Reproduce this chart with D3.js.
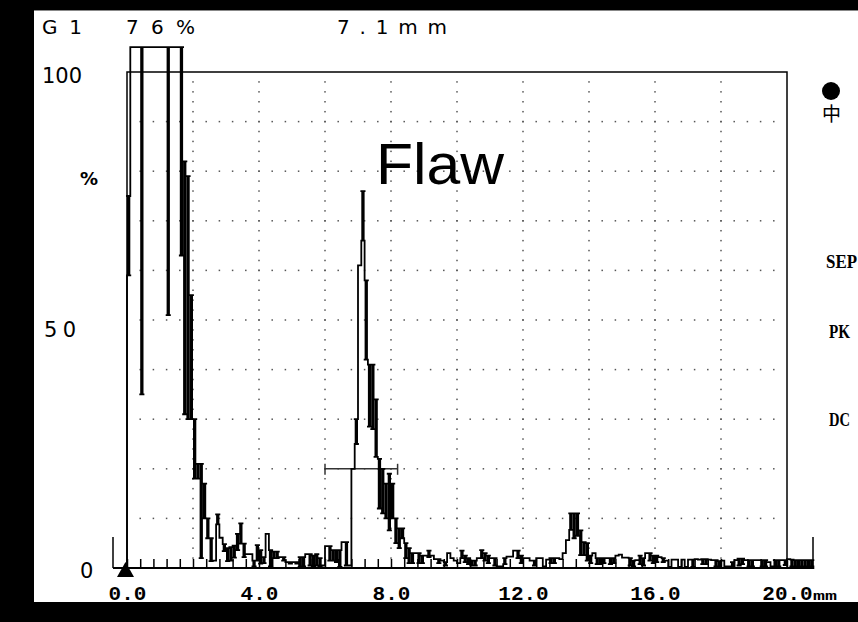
<!DOCTYPE html>
<html><head><meta charset="utf-8">
<script src="https://cdn.jsdelivr.net/npm/d3@7"></script>
<style>body{margin:0;background:#000;}svg{display:block}</style>
</head><body>
<svg id="c" width="858" height="622"></svg>
<script>
// ---- data ----
const xTickValues = [0, 4, 8, 12, 16, 20];
const xTickLabels = ["0.0", "4.0", "8.0", "12.0", "16.0", "20.0"];
const yTickValues = [100, 50, 0];
const yTickLabels = ["100", "50", "0"];
const headerLabels = ["G1", "76%", "7.1mm"];
const sideLabels = ["SEP", "PK", "DC"];
const binWidthMm = 0.1;
// A-scan peak envelope per 0.1 mm bin (% amplitude): upper and lower value in each bin
const peakHi = [
 75,105,105,105,105,105,105,105,105,105, 105,105,105,105,105,105,105,82,79,55,
 30,21,21,17,10,6,1.5,10.8,6.1,4.8, 4,4.2,4.5,6.9,9,4.9,2.8,2.8,1.5,4.6,
 3.6,2.2,6.9,3.6,3.3,3.3,2.2,2.2,1.2,1.2, 1.2,1.2,2.2,2.2,2.8,2.8,2.5,2.8,2,0.5,
 4.4,4.4,3.6,3.6,3.6,5.2,5.2,0.5,20,30, 61,76,58,41,41,34,22,20,17,19,
 17,10,8,8,5,4,3,3,3,2.5, 2.5,3.5,2.5,1.8,1.8,1.5,1.2,3,2,1.5,
 1,3.5,2.5,2,1.5,1.5,2,3.6,3,2.5, 2,2,0.3,0.3,2,2.3,2.3,3.5,3.5,2.5,
 2,2,1.5,1.5,2,2,0.3,1.7,2,2, 2,1.8,3,5.6,11,11,11,7.6,5.2,5,
 2.5,3,2,2,2,2,2,2,2.5,2.7, 2.1,2.1,2,1.5,1.6,2.5,2,3,3,2.5,
 2.5,2.2,2,1.5,0.2,1.7,1.7,0.2,1.7,0.2, 1.7,1.7,1.8,1.7,1.8,1.8,1.7,1.6,1.6,1.4,
 1.5,0.3,0.3,1.2,1.6,1.9,1.9,1.6,1.6,1.6, 1.6,1.6,1.6,1.6,1.2,0.3,1.6,1.6,1.6,1.6,
 1.8,1.7,1.6,1.6,1.6,1.6,1.6,1.6
];
const peakLo = [
 59,105,105,105,35,105,105,105,105,105, 105,105,51,105,105,105,63,31,30,30,
 18,18,2,10,6,1.4,1.5,8.8,6.1,3.4, 1.4,1.5,2.1,3.6,4.9,2.2,2.8,2.8,0.3,1.5,
 0.9,1,6.9,0.3,2,2,2.2,1.5,1.2,0.9, 1.2,0.9,0.2,0.3,2.8,0.5,0.3,0.5,0.3,0.5,
 4.4,1.5,1.5,1.2,0.2,5.2,0.5,0.5,20,25, 61,66,42,28.5,28,22.4,12,11,10,7.6,
 10,5,4,6,2,1,1,3,1,1, 2.5,2.2,2.5,1.8,1,1.5,0.5,3,2,1.5,
 1,2,1.2,0.8,0.5,0.5,2,2,1.5,1, 2,0.5,0.3,0.3,0.8,2.3,2.3,3.5,2,1,
 2,2,1.5,0.5,2,2,0.3,1.7,1,1, 2,1.8,3,5.6,7.7,6,6.5,2.6,2.6,1.5,
 1,3,0.8,0.8,1,2,0.8,1,2.5,2.7, 2.1,2.1,0.5,0.3,1.6,0.8,0.5,3,1.5,1,
 1.2,2.2,1.2,1.5,0.2,1.7,1.7,0.2,1.7,0.2, 1.7,0.2,1.8,1.7,0.8,0.8,1.7,1.6,0.3,0.3,
 1.5,0.3,0.3,0.3,1.6,0.5,0.8,1.6,0.3,0.3, 1.6,1.6,0.3,0.3,1.2,0.3,0.3,0.3,1.6,0.6,
 1.8,0.3,0.3,0.3,0.3,0.3,0.3,0.3
];
const gateStartMm = 6.0, gateEndMm = 8.2, gateLevel = 20;

// ---- drawing ----
const svg = d3.select("#c");
const x = d3.scaleLinear().domain([0, 20]).range([127, 787]);
const y = d3.scaleLinear().domain([0, 100]).range([568, 72]);

svg.append("rect").attr("width", 858).attr("height", 622).attr("fill", "#000");
svg.append("rect").attr("x", 34).attr("y", 10).attr("width", 824).attr("height", 592).attr("fill", "#fff");
svg.append("line").attr("x1", 34).attr("x2", 858).attr("y1", 10.5).attr("y2", 10.5).attr("stroke", "#888");

// grid dots
const gridG = svg.append("g").attr("fill", "#555");
const rowDots = [];
d3.range(10, 100, 10).forEach(v => d3.range(1, 50).forEach(k => rowDots.push([k * 0.4, v])));
d3.range(2, 20, 2).forEach(m => d3.range(1, 50).forEach(k => rowDots.push([m, k * 2])));
gridG.selectAll("rect").data(rowDots).join("rect")
  .attr("x", d => x(d[0]) - 0.75).attr("y", d => y(d[1]) - 0.75)
  .attr("width", 1.5).attr("height", 1.5);

// frame
svg.append("rect").attr("x", x(0)).attr("y", y(100))
  .attr("width", x(20) - x(0)).attr("height", y(0) - y(100))
  .attr("fill", "none").attr("stroke", "#000").attr("stroke-width", 1.5);

// baseline with minor ticks
const axisG = svg.append("g").attr("transform", `translate(0,${y(0)})`);
axisG.append("line").attr("x1", 113).attr("x2", 813).attr("stroke", "#000").attr("stroke-width", 2);
axisG.append("line").attr("x1", 113).attr("x2", 113).attr("y1", 0).attr("y2", -31).attr("stroke", "#000").attr("stroke-width", 1.5);
axisG.append("line").attr("x1", 813).attr("x2", 813).attr("y1", 0).attr("y2", -31).attr("stroke", "#000").attr("stroke-width", 1.5);
axisG.call(d3.axisBottom(x).tickValues(d3.range(0, 20.01, 0.4)).tickSize(-9).tickFormat(""))
  .call(g => g.select(".domain").remove())
  .call(g => g.selectAll(".tick line").attr("stroke", "#000").attr("stroke-width", 1.5));

// x labels
const labG = svg.append("g").attr("transform", `translate(0,${y(0)})`);
labG.call(d3.axisBottom(x).tickValues(xTickValues).tickSize(0).tickPadding(0)
    .tickFormat((d, i) => xTickLabels[i]))
  .call(g => g.select(".domain").remove())
  .call(g => g.selectAll(".tick text").attr("y", 32).attr("dy", 0)
    .attr("font-family", "Liberation Mono").attr("font-weight", "bold")
    .attr("font-size", 21).attr("fill", "#000"));
svg.append("text").attr("x", x(20) + 26).attr("y", 600).text("mm")
  .attr("font-family", "Liberation Mono").attr("font-weight", "bold").attr("font-size", 13)
  .attr("textLength", 24).attr("lengthAdjust", "spacingAndGlyphs");

// zero marker triangle
svg.append("path").attr("d", `M${x(0) - 1.5},${y(0) - 6} L${x(0) - 10},${y(0) + 9} L${x(0) + 7},${y(0) + 9} Z`).attr("fill", "#000");

// y labels
svg.append("g").selectAll("text").data(yTickValues).join("text")
  .attr("x", (d, i) => [42, 44, 80][i])
  .attr("y", d => y(d) + [11, 17, 10][yTickValues.indexOf(d)])
  .text((d, i) => yTickLabels[i])
  .attr("font-family", "DejaVu Sans").attr("font-size", 21)
  .attr("textLength", (d, i) => [40, 32, 14][i]).attr("lengthAdjust", "spacing");
svg.append("text").attr("x", 80).attr("y", 185).text("%")
  .attr("font-family", "DejaVu Sans").attr("font-weight", "bold").attr("font-size", 18);

// header
svg.append("g").selectAll("text").data(headerLabels).join("text")
  .attr("x", (d, i) => [42, 126, 337][i]).attr("y", 34)
  .attr("textLength", (d, i) => [40, 69, 110][i]).attr("lengthAdjust", "spacing")
  .attr("font-family", "DejaVu Sans").attr("font-size", 20)
  .text(d => d);

// gate
const gy = y(gateLevel);
const gateG = svg.append("g").attr("stroke", "#333").attr("stroke-width", 1.5);
gateG.append("line").attr("x1", x(gateStartMm)).attr("x2", x(gateEndMm)).attr("y1", gy).attr("y2", gy);
gateG.append("line").attr("x1", x(gateStartMm)).attr("x2", x(gateStartMm)).attr("y1", gy - 5).attr("y2", gy + 6);
gateG.append("line").attr("x1", x(gateEndMm)).attr("x2", x(gateEndMm)).attr("y1", gy - 5).attr("y2", gy + 6);

// signal
const bins = peakHi.map((h, i) => ({ x0: i * binWidthMm, x1: (i + 1) * binWidthMm, hi: h, lo: peakLo[i] }));
const sigG = svg.append("g");
sigG.selectAll("rect").data(bins.filter(d => d.hi > d.lo)).join("rect")
  .attr("x", d => x(d.x0)).attr("width", d => x(d.x1) - x(d.x0))
  .attr("y", d => y(d.hi)).attr("height", d => y(d.lo) - y(d.hi))
  .attr("fill", "#000");
const p = d3.path();
bins.forEach((d, i) => {
  const prev = i ? bins[i - 1] : { hi: 0, lo: 0 };
  const xx = x(d.x0);
  if (d.lo > prev.hi) { p.moveTo(xx, y(prev.hi)); p.lineTo(xx, y(d.lo)); }
  else if (d.hi < prev.lo) { p.moveTo(xx, y(prev.lo)); p.lineTo(xx, y(d.hi)); }
  p.moveTo(xx, y(d.hi)); p.lineTo(x(d.x1), y(d.hi));
  if (d.lo < d.hi) { p.moveTo(xx, y(d.lo)); p.lineTo(x(d.x1), y(d.lo)); }
});
const last = bins[bins.length - 1];
p.moveTo(x(last.x1), y(last.lo)); p.lineTo(x(last.x1), y(0));
sigG.append("path").attr("d", p.toString()).attr("stroke", "#000").attr("stroke-width", 1.8)
  .attr("stroke-linecap", "square").attr("fill", "none");

// Flaw annotation
svg.append("text").attr("x", 376).attr("y", 184)
  .attr("font-family", "Liberation Sans").attr("font-size", 57)
  .attr("textLength", 128).attr("lengthAdjust", "spacingAndGlyphs").text("Flaw");

// right side status
svg.append("circle").attr("cx", 831).attr("cy", 91).attr("r", 9).attr("fill", "#000");
svg.append("text").attr("x", 822).attr("y", 121).text("中")
  .attr("font-family", "Noto Sans CJK SC").attr("font-size", 19);
svg.append("g").selectAll("text").data(sideLabels).join("text")
  .attr("x", (d, i) => [826, 829, 829][i]).attr("y", (d, i) => [268, 338, 426][i])
  .attr("textLength", (d, i) => [31, 21, 21][i]).attr("lengthAdjust", "spacingAndGlyphs")
  .attr("font-family", "Liberation Serif").attr("font-weight", "bold").attr("font-size", 18)
  .text(d => d);
</script>
</body></html>
